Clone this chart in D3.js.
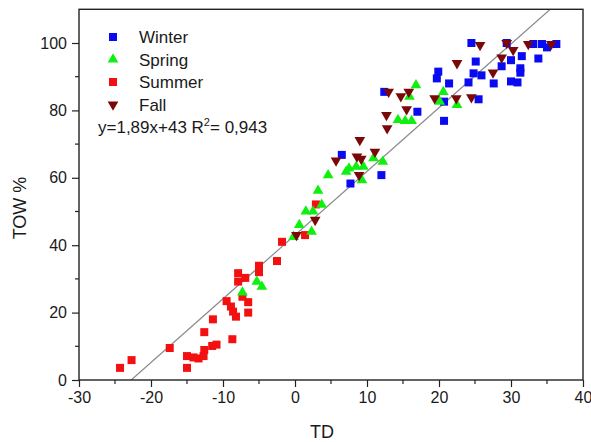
<!DOCTYPE html>
<html lang="en">
<head>
    <meta charset="UTF-8">
    <title>TOW vs TD</title>
    <script src="https://d3js.org/d3.v7.min.js"></script>
    <style>
        body{
            margin:0;
            background:#fff;
        }
        svg text{
            font-family: Arial, "Liberation Sans", sans-serif;
            fill:#1a1a1a;
        }
    </style>
</head>
<body>
    <svg id="chart" width="591" height="442"></svg>
    <script>
        // [TD, TOW %]
        const winter = [[6.5,66.8],[7.7,58.3],[12.0,60.8],[12.4,85.5],[17.0,79.6],[19.9,91.5],[19.7,89.5],
            [21.4,88.0],[20.7,76.9],[20.7,82.6],[24.5,100],[25.1,94.5],[24.8,91.0],[25.9,90.4],[24.1,88.3],
            [25.5,83.3],[27.6,88.0],[28.7,93.1],[30.0,94.9],[31.5,96.1],[31.3,92.5],[31.3,91.2],[30.0,88.6],
            [30.9,88.3],[33.8,95.4],[33.1,99.7],[34.3,99.7],[35.0,98.7],[36.3,99.7],[29.4,100]];
        const spring = [[-7.3,26.0],[-5.3,29.2],[-4.6,27.7],[-0.2,42.5],[0.6,46.0],[2.3,44.0],[1.5,50.0],
            [2.5,50.0],[3.7,52.0],[3.2,56.2],[4.6,60.8],[7.1,61.8],[7.5,62.8],[8.5,63.3],[9.3,59.3],[9.5,63.3],
            [10.9,65.8],[12.2,64.8],[16.8,87.5],[15.9,84.1],[14.3,77.2],[15.3,76.9],[16.2,76.9],[20.6,85.5],
            [20.1,82.6],[22.5,81.6]];
        const summer = [[-24.3,3.6],[-22.7,5.9],[-17.4,9.5],[-15.0,3.6],[-15.0,7.1],[-14.1,6.7],[-13.4,6.4],
            [-12.7,7.1],[-12.6,8.9],[-12.6,14.2],[-11.5,10.1],[-10.9,10.5],[-11.4,18.0],[-8.7,12.1],[-9.5,23.4],
            [-8.9,21.8],[-8.6,20.3],[-8.2,18.8],[-7.3,24.7],[-6.5,23.1],[-6.5,20.0],[-7.9,31.7],[-7.9,29.2],
            [-6.9,30.3],[-5.0,33.9],[-5.0,32.0],[-2.5,35.3],[-1.8,41.0],[2.9,52.1],[1.4,43.0]];
        const fall = [[0.2,43.0],[2.8,47.5],[5.7,65.1],[8.6,66.3],[9.2,65.6],[8.9,60.8],[11.1,67.7],[9.0,71.2],
            [13.0,85.5],[14.7,84.2],[15.8,85.5],[15.5,80.3],[12.7,78.6],[12.8,74.7],[19.4,83.6],[22.4,83.6],
            [24.5,83.9],[22.5,94.0],[25.7,99.4],[29.4,100],[30.3,97.9],[28.7,95.7],[27.5,91.2],[32.4,99.7],
            [35.6,99.7]];

        const fit = {slope:1.89, intercept:43};
        const xTicks = [-30,-20,-10,0,10,20,30,40];
        const yTicks = [0,20,40,60,80,100];

        const series = [
            {name:'Winter', data:winter, color:'#0a0af0', shape:'square'},
            {name:'Spring', data:spring, color:'#10f010', shape:'up'},
            {name:'Summer', data:summer, color:'#f21010', shape:'square'},
            {name:'Fall', data:fall, color:'#7a0808', shape:'down'}
        ];
        const drawOrder = ['Winter','Summer','Spring','Fall'];

        const svg = d3.select('#chart');
        const pLeft = 79, pRight = 583, pTop = 9.3, pBottom = 380;

        const x = d3.scaleLinear().domain([-30,40]).range([pLeft,pRight]);
        const y = d3.scaleLinear().domain([0,110]).range([pBottom,pTop]);

        // fit line, clipped to the frame
        svg.append('clipPath').attr('id','plotClip')
            .append('rect').attr('x',pLeft).attr('y',pTop).attr('width',pRight-pLeft).attr('height',pBottom-pTop);
        const x0 = (0-fit.intercept)/fit.slope, x1 = (110-fit.intercept)/fit.slope;
        svg.append('line')
            .attr('clip-path','url(#plotClip)')
            .attr('x1',x(x0)).attr('y1',y(0))
            .attr('x2',x(x1)).attr('y2',y(110))
            .attr('stroke','#8a8a8a')
            .attr('stroke-width',1.2);

        const triangle = d3.symbol().type(d3.symbolTriangle).size(50);
        function drawMark(g, shape, color){
            if(shape==='square'){
                g.append('rect').attr('x',-4).attr('y',-4).attr('width',8).attr('height',8).attr('fill',color);
            }else{
                g.append('path').attr('d',triangle())
                    .attr('transform',shape==='down'?'rotate(180)':null)
                    .attr('fill',color);
            }
        }

        drawOrder.forEach(n=>{
            const s = series.find(d=>d.name===n);
            svg.append('g').selectAll('g')
                .data(s.data)
                .join('g')
                .attr('transform',d=>`translate(${x(d[0])},${y(d[1])})`)
                .each(function(){ drawMark(d3.select(this), s.shape, s.color); });
        });

        // axes (plain hyphen for negatives, like the original)
        const xAxis = d3.axisBottom(x).tickValues(xTicks).tickSize(7).tickPadding(5).tickFormat(d=>String(d));
        const xg = svg.append('g').attr('transform',`translate(0,${pBottom})`).call(xAxis);
        const yAxis = d3.axisLeft(y).tickValues(yTicks).tickSize(7).tickPadding(5).tickFormat(d=>String(d));
        const yg = svg.append('g').attr('transform',`translate(${pLeft},0)`).call(yAxis);
        [xg,yg].forEach(g=>{
            g.select('.domain').remove();
            g.selectAll('line').attr('stroke','#222').attr('stroke-width',1.2);
            g.selectAll('text').attr('font-size','16px').attr('fill','#1a1a1a')
                .style('font-family','Arial, "Liberation Sans", sans-serif');
        });
        // minor ticks
        svg.append('g').selectAll('line')
            .data(d3.range(-25,40,10))
            .join('line')
            .attr('x1',d=>x(d)).attr('x2',d=>x(d))
            .attr('y1',pBottom).attr('y2',pBottom+4)
            .attr('stroke','#222').attr('stroke-width',1.2);
        svg.append('g').selectAll('line')
            .data(d3.range(10,110,20))
            .join('line')
            .attr('x1',pLeft-4).attr('x2',pLeft)
            .attr('y1',d=>y(d)).attr('y2',d=>y(d))
            .attr('stroke','#222').attr('stroke-width',1.2);

        // frame
        svg.append('rect')
            .attr('x',pLeft).attr('y',pTop)
            .attr('width',pRight-pLeft).attr('height',pBottom-pTop)
            .attr('fill','none').attr('stroke','#222').attr('stroke-width',1.4);

        // axis titles
        svg.append('text')
            .attr('x',322).attr('y',438)
            .attr('text-anchor','middle')
            .attr('font-size','18px')
            .text('TD');
        svg.append('text')
            .attr('transform','translate(26,208) rotate(-90)')
            .attr('text-anchor','middle')
            .attr('font-size','18px')
            .text('TOW %');

        // legend
        const legend = svg.append('g');
        series.forEach((s,i)=>{
            const ly = 37 + i*22.5;
            const g = legend.append('g').attr('transform',`translate(113,${ly})`);
            drawMark(g, s.shape, s.color);
            legend.append('text')
                .attr('x',139).attr('y',ly+6)
                .attr('font-size','17px')
                .text(s.name);
        });
        const eq = legend.append('text')
            .attr('x',98).attr('y',133)
            .attr('font-size','17px');
        eq.append('tspan').text('y=1,89x+43 R');
        eq.append('tspan').attr('dy',-7).attr('font-size','11px').text('2');
        eq.append('tspan').attr('dy',7).text('= 0,943');
    </script>
</body>
</html>
